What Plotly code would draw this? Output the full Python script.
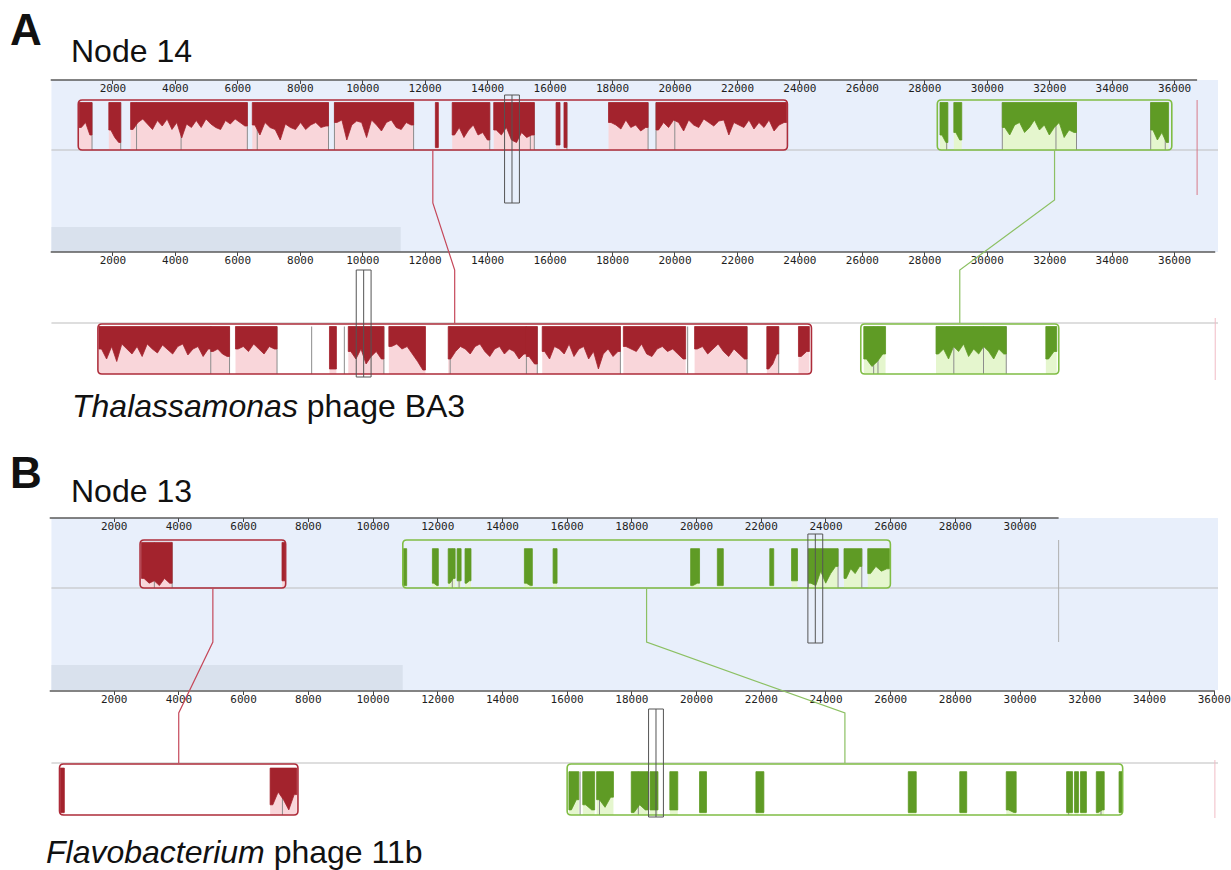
import plotly.graph_objects as go

W, H = 1231, 870

# ---------------- data ----------------
A_TICKS = [2000, 4000, 6000, 8000, 10000, 12000, 14000, 16000, 18000, 20000,
           22000, 24000, 26000, 28000, 30000, 32000, 34000, 36000]
B1_TICKS = [2000, 4000, 6000, 8000, 10000, 12000, 14000, 16000, 18000, 20000,
            22000, 24000, 26000, 28000, 30000]
B2_TICKS = [2000, 4000, 6000, 8000, 10000, 12000, 14000, 16000, 18000, 20000,
            22000, 24000, 26000, 28000, 30000, 32000, 34000, 36000]

A1_LEN, A2_LEN, B1_LEN, B2_LEN = 36720, 37300, 31190, 36020
A1_CURSOR, A2_CURSOR, B1_CURSOR, B2_CURSOR = 14780, 10030, 23670, 18746

# --- Panel A, Node 14 (top genome) ---
A1_RED = [890, 23600]
A1_RED_SEGS = [[919, 1331], [1869, 2250], [2567, 6305], [6464, 8904], [9094, 11629],
               [12326, 12421], [12865, 14068], [14195, 15494], [16191, 16318],
               [16445, 16540], [17871, 19138], [19392, 23574]]
A1_RED_SIM = [
    [.45, .55, .3],
    [.4, .25, .15],
    [.41, .55, .62, .52, .41, .59, .48, .62, .41, .55, .24, .52, .45, .59, .45, .62,
     .52, .45, .41, .59, .52, .62, .55, .48],
    [.5, .3, .55, .45, .41, .2, .52, .45, .41, .55, .41, .5, .55, .45, .48],
    [.55, .6, .2, .5, .58, .55, .25, .6, .5, .38, .55, .6, .45, .41, .55, .5],
    [.05],
    [.3, .45, .25, .4, .5, .3, .35, .2],
    [.4, .3, .45, .2, .15, .35, .25, .3],
    [.1],
    [.05],
    [.55, .5, .42, .6, .45, .5, .38, .45],
    [.4, .55, .45, .6, .55, .38, .6, .5, .45, .62, .55, .48, .58, .6, .3, .55, .5, .45,
     .6, .42, .55, .45, .6, .38, .5, .55],
]
A1_RED_GRAY = [1331, 2250, 2757, 4183, 6305, 6622, 8904, 9094, 11629, 14068, 15368,
               15494, 16540, 19138, 19392, 19994]

A1_GREEN = [28400, 35910]
A1_GREEN_SEGS = [[28486, 28739], [28929, 29183], [30482, 32858], [35234, 35805]]
A1_GREEN_SIM = [
    [.3, .15],
    [.35, .2],
    [.45, .3, .5, .55, .35, .45, .6, .4, .5, .3, .45, .55, .25, .4, .35],
    [.4, .2, .35, .15],
]
A1_GREEN_GRAY = [28700, 30482, 32200, 32858, 35234, 35700]

# --- Panel A, Thalassamonas phage BA3 ---
A2_RED = [1520, 24370]
A2_RED_SEGS = [[1553, 5133], [5133, 5735], [5925, 7256], [8935, 9157], [9537, 10678],
               [10837, 12009], [12738, 15241], [15241, 15590], [15748, 18251],
               [18346, 20342], [20628, 22307], [22941, 23321], [23954, 24303]]
A2_RED_SIM = [
    [.5, .3, .55, .25, .6, .5, .4, .55, .35, .6, .5, .42, .58, .5, .4, .55, .6, .38, .5,
     .55, .35, .5],
    [.45, .5, .4, .35],
    [.5, .55, .45, .6, .5, .4, .55, .5],
    [.1],
    [.45, .3, .5, .2, .35, .45, .3],
    [.55, .6, .5, .55, .4, .25, .08],
    [.3, .45, .55, .5, .4, .55, .6, .45, .35, .5, .55, .4, .5, .45, .3, .4],
    [.35, .2],
    [.45, .3, .55, .5, .4, .6, .35, .5, .55, .3, .45, .1, .4, .5, .35, .45],
    [.55, .5, .45, .6, .4, .35, .5, .55, .45, .5, .4, .3],
    [.5, .55, .4, .5, .6, .45, .35, .5, .4, .3],
    [.1, .2, .4],
    [.35, .45],
]
A2_RED_GRAY = [5133, 5735, 7256, 8365, 9411, 10678, 12801, 15241, 15590, 18251,
               20406, 22307, 23321]

A2_GREEN = [25950, 32290]
A2_GREEN_SEGS = [[26046, 26743], [28359, 30608], [31876, 32224]]
A2_GREEN_SIM = [
    [.3, .15, .25, .4],
    [.4, .5, .3, .55, .45, .6, .35, .5, .4, .55, .45, .3, .5, .4],
    [.3, .45],
]
A2_GREEN_GRAY = [26362, 26500, 28929, 29880, 30608]

# --- Panel B, Node 13 (top genome) ---
B1_RED = [2800, 7300]
B1_RED_SEGS = [[2844, 3792], [7187, 7278]]
B1_RED_SIM = [[.2, .1, .15, .05, .2, .1], [.15]]
B1_RED_GRAY = [3242, 3792]

B1_GREEN = [10920, 25990]
B1_GREEN_SEGS = [[10940, 11040], [11835, 12018], [12324, 12538], [12599, 12722],
                 [12844, 13028], [14679, 14924], [15566, 15688], [19817, 20092],
                 [20642, 20826], [22263, 22385], [22936, 23119], [23456, 24373],
                 [24557, 25107], [25291, 25963]]
B1_GREEN_SIM = [[.05], [.1, .05], [.1, .2], [.15], [.1, .15], [.1, .05], [.1],
                [.05, .1], [.05], [.05], [.15], [.1, .05, .35, .1, .3, .45],
                [.2, .4, .3, .45], [.3, .45, .35, .4]]
B1_GREEN_GRAY = [12450, 12660, 23456, 24373, 25107]

# --- Panel B, Flavobacterium phage 11b ---
B2_RED = [310, 7680]
B2_RED_SEGS = [[336, 459], [6820, 7645]]
B2_RED_SIM = [[.05], [.2, .45, .3, .1, .4]]
B2_RED_GRAY = [7200]

B2_GREEN = [16000, 33170]
B2_GREEN_SEGS = [[16055, 16361], [16483, 16850], [16911, 17431], [17982, 18502],
                 [18563, 18807], [19174, 19419], [20092, 20306], [21835, 22080],
                 [26544, 26789], [28135, 28349], [29572, 29878], [31437, 31621],
                 [31682, 31804], [31865, 32049], [32355, 32599], [33058, 33150]]
B2_GREEN_SIM = [[.1, .3], [.2, .1], [.3, .15, .35], [.05, .2, .1], [.1], [.1], [.05],
                [.05], [.05], [.05], [.1, .05], [.05], [.05], [.05], [.05, .1], [.05]]
B2_GREEN_GRAY = [16400, 17000, 18200, 31500, 32500]

# ---------------- styling / layout constants ----------------
RED = dict(line="#ad2c3a", dark="#a3232d", light="#f9d6da")
GREEN = dict(line="#80bd45", dark="#5f9b25", light="#e5f6ce")
GRAYLINE = "#8c8c8c"
BLUE_BG = "#e8effb"
BAND_BG = "#d9e1ed"

PANELS = {"A": dict(x0px=51, ppb=0.03156), "B": dict(x0px=50, ppb=0.0327)}
# pixel layout of each track: axis domain (top,bottom), block (top,bottom), center line
TRACKS = {
    "A1": dict(n=1, panel="A", dom=(80, 252), blk=(100, 150), center=150, ticks=A_TICKS,
               length=A1_LEN, cur=(95, 203)),
    "A2": dict(n=2, panel="A", dom=(252, 392), blk=(324, 374), center=323, ticks=A_TICKS,
               length=A2_LEN, cur=(270, 377)),
    "B1": dict(n=3, panel="B", dom=(518, 690), blk=(540, 588), center=588, ticks=B1_TICKS,
               length=B1_LEN, cur=(534, 643)),
    "B2": dict(n=4, panel="B", dom=(691, 835), blk=(764, 815), center=763, ticks=B2_TICKS,
               length=B2_LEN, cur=(709, 817)),
}


def pyp(py):
    return 1 - py / H


def pxp(px):
    return px / W


fig = go.Figure()
shapes = []
annotations = []

# backgrounds for the top genome of each panel
for tk, band_px in (("A1", 405), ("B1", 407)):
    t = TRACKS[tk]
    shapes.append(dict(type="rect", xref="paper", yref="paper", x0=pxp(52), x1=1,
                       y0=pyp(t["dom"][1]), y1=pyp(t["dom"][0]), fillcolor=BLUE_BG,
                       line=dict(width=0), layer="below"))
    shapes.append(dict(type="rect", xref="paper", yref="paper", x0=pxp(52), x1=pxp(band_px),
                       y0=pyp(t["dom"][1]), y1=pyp(t["dom"][1] - 25), fillcolor=BAND_BG,
                       line=dict(width=0), layer="below"))

for name, t in TRACKS.items():
    n = t["n"]
    p = PANELS[t["panel"]]
    xs = "" if n == 1 else str(n)
    xmax = (W - p["x0px"]) / p["ppb"]
    bh = t["blk"][1] - t["blk"][0]
    ylo = -(t["dom"][1] - t["blk"][1]) / bh
    yhi = (t["blk"][1] - t["dom"][0]) / bh
    fig.layout["xaxis" + xs] = dict(
        domain=[pxp(p["x0px"]), 1], range=[0, xmax], anchor="y" + xs, side="top",
        tickmode="array", tickvals=t["ticks"], ticktext=[str(v) for v in t["ticks"]],
        ticks="inside", ticklen=4, tickcolor="#444", tickwidth=1,
        ticklabelposition="inside", ticklabeloverflow="allow",
        tickfont=dict(family="DejaVu Sans Mono", size=11, color="#1e1e1e"),
        showgrid=False, zeroline=False, showline=False, fixedrange=True)
    fig.layout["yaxis" + xs] = dict(
        domain=[pyp(t["dom"][1]), pyp(t["dom"][0])], range=[ylo, yhi], anchor="x" + xs,
        visible=False, fixedrange=True)
    # center line
    shapes.append(dict(type="line", xref="paper", yref="paper", x0=pxp(52), x1=1,
                       y0=pyp(t["center"]), y1=pyp(t["center"]),
                       line=dict(color="#bdbdbd", width=1), layer="below"))
    # ruler line
    shapes.append(dict(type="line", xref="x" + xs, yref="paper", x0=0, x1=t["length"],
                       y0=pyp(t["dom"][0]), y1=pyp(t["dom"][0]),
                       line=dict(color="#5a5a5a", width=1.5)))

# genome end markers
shapes.append(dict(type="line", xref="x", yref="paper", x0=A1_LEN, x1=A1_LEN,
                   y0=pyp(100), y1=pyp(195), line=dict(color="#d77a88", width=1)))
shapes.append(dict(type="line", xref="x2", yref="paper", x0=A2_LEN, x1=A2_LEN,
                   y0=pyp(318), y1=pyp(380), line=dict(color="#f1bcc5", width=1)))
shapes.append(dict(type="line", xref="x3", yref="paper", x0=B1_LEN, x1=B1_LEN,
                   y0=pyp(540), y1=pyp(642), line=dict(color="#b0b0b0", width=1)))
shapes.append(dict(type="line", xref="x4", yref="paper", x0=B2_LEN, x1=B2_LEN,
                   y0=pyp(760), y1=pyp(818), line=dict(color="#f1bcc5", width=1)))


def rrect(x0, x1, y0, y1, rx, ry):
    return (f"M {x0 + rx},{y0} L {x1 - rx},{y0} Q {x1},{y0} {x1},{y0 + ry} "
            f"L {x1},{y1 - ry} Q {x1},{y1} {x1 - rx},{y1} L {x0 + rx},{y1} "
            f"Q {x0},{y1} {x0},{y1 - ry} L {x0},{y0 + ry} Q {x0},{y0} {x0 + rx},{y0} Z")


def add_block(track, block, segs, sims, gray, col, top):
    t = TRACKS[track]
    n = t["n"]
    xs = "" if n == 1 else str(n)
    p = PANELS[t["panel"]]
    bh = t["blk"][1] - t["blk"][0]
    lx, ly, dx, dy, gx, gy = [], [], [], [], [], []
    for (s, e), vals in zip(segs, sims):
        lx += [s, s, e, e, s, None]
        ly += [0, top, top, 0, 0, None]
        k = len(vals)
        step = (e - s) / k
        px = [s] + [s + (i + 0.5) * step for i in range(k)] + [e]
        pv = [vals[0]] + list(vals) + [vals[-1]]
        dx += [s, e] + px[::-1] + [s, None]
        dy += [top, top] + pv[::-1] + [top, None]
    for g in gray:
        gx += [g, g, None]
        gy += [0, top, None]
    common = dict(xaxis="x" + xs, yaxis="y" + xs, hoverinfo="skip", showlegend=False)
    fig.add_trace(go.Scatter(x=lx, y=ly, fill="toself", fillcolor=col["light"], mode="none",
                             **common))
    fig.add_trace(go.Scatter(x=gx, y=gy, mode="lines", line=dict(color=GRAYLINE, width=1),
                             **common))
    fig.add_trace(go.Scatter(x=dx, y=dy, fill="toself", fillcolor=col["dark"], mode="lines",
                             line=dict(color=col["dark"], width=0.8), **common))
    rx = 4 / p["ppb"]
    ry = 4 / bh
    shapes.append(dict(type="path", xref="x" + xs, yref="y" + xs,
                       path=rrect(block[0], block[1], 0, 1, rx, ry),
                       line=dict(color=col["line"], width=1.6)))


add_block("A1", A1_RED, A1_RED_SEGS, A1_RED_SIM, A1_RED_GRAY, RED, 0.95)
add_block("A1", A1_GREEN, A1_GREEN_SEGS, A1_GREEN_SIM, A1_GREEN_GRAY, GREEN, 0.95)
add_block("A2", A2_RED, A2_RED_SEGS, A2_RED_SIM, A2_RED_GRAY, RED, 0.95)
add_block("A2", A2_GREEN, A2_GREEN_SEGS, A2_GREEN_SIM, A2_GREEN_GRAY, GREEN, 0.95)
add_block("B1", B1_RED, B1_RED_SEGS, B1_RED_SIM, B1_RED_GRAY, RED, 0.95)
add_block("B1", B1_GREEN, B1_GREEN_SEGS, B1_GREEN_SIM, B1_GREEN_GRAY, GREEN, 0.82)
add_block("B2", B2_RED, B2_RED_SEGS, B2_RED_SIM, B2_RED_GRAY, RED, 0.92)
add_block("B2", B2_GREEN, B2_GREEN_SEGS, B2_GREEN_SIM, B2_GREEN_GRAY, GREEN, 0.85)

# cursors
for tk, c in (("A1", A1_CURSOR), ("A2", A2_CURSOR), ("B1", B1_CURSOR), ("B2", B2_CURSOR)):
    t = TRACKS[tk]
    xs = "" if t["n"] == 1 else str(t["n"])
    half = 7.5 / PANELS[t["panel"]]["ppb"]
    shapes.append(dict(type="rect", xref="x" + xs, yref="paper", x0=c - half, x1=c + half,
                       y0=pyp(t["cur"][1]), y1=pyp(t["cur"][0]),
                       line=dict(color="#555", width=1)))
    shapes.append(dict(type="line", xref="x" + xs, yref="paper", x0=c, x1=c,
                       y0=pyp(t["cur"][1]), y1=pyp(t["cur"][0]),
                       line=dict(color="#555", width=1)))


# connectors between homologous blocks (block centres)
def connect(top_tk, bot_tk, top_blk, bot_blk, color, y_break):
    tt, bt = TRACKS[top_tk], TRACKS[bot_tk]
    xs = "" if tt["n"] == 1 else str(tt["n"])
    ct = (top_blk[0] + top_blk[1]) / 2
    cb = (bot_blk[0] + bot_blk[1]) / 2
    path = (f"M {ct},{pyp(tt['center'])} L {ct},{pyp(y_break[0])} "
            f"L {cb},{pyp(y_break[1])} L {cb},{pyp(bt['center'])}")
    shapes.append(dict(type="path", xref="x" + xs, yref="paper", path=path,
                       line=dict(color=color, width=1.2)))


connect("A1", "A2", A1_RED, A2_RED, "#c5485a", (203, 270))
connect("A1", "A2", A1_GREEN, A2_GREEN, "#8cc063", (200, 270))
connect("B1", "B2", B1_RED, B2_RED, "#c5485a", (642, 713))
connect("B1", "B2", B1_GREEN, B2_GREEN, "#8cc063", (642, 713))

# texts
FONT = "Liberation Sans, Arial, Helvetica, sans-serif"


def text(s, px, py, size, bold=False, xanchor="left"):
    annotations.append(dict(text=f"<b>{s}</b>" if bold else s, x=pxp(px), y=pyp(py),
                            xref="paper", yref="paper", xanchor=xanchor, yanchor="middle",
                            showarrow=False, font=dict(family=FONT, size=size, color="#111")))


text("A", 8, 30, 44, bold=True)
text("Node 14", 70, 51, 32)
text("<i>Thalassamonas</i> phage BA3", 71, 406, 32)
text("B", 8, 472, 44, bold=True)
text("Node 13", 70, 491, 32)
text("<i>Flavobacterium</i> phage 11b", 44, 852, 32)

fig.update_layout(width=W, height=H, margin=dict(l=0, r=0, t=0, b=0),
                  paper_bgcolor="white", plot_bgcolor="rgba(0,0,0,0)",
                  shapes=shapes, annotations=annotations, showlegend=False)

fig.write_html("out.html")
